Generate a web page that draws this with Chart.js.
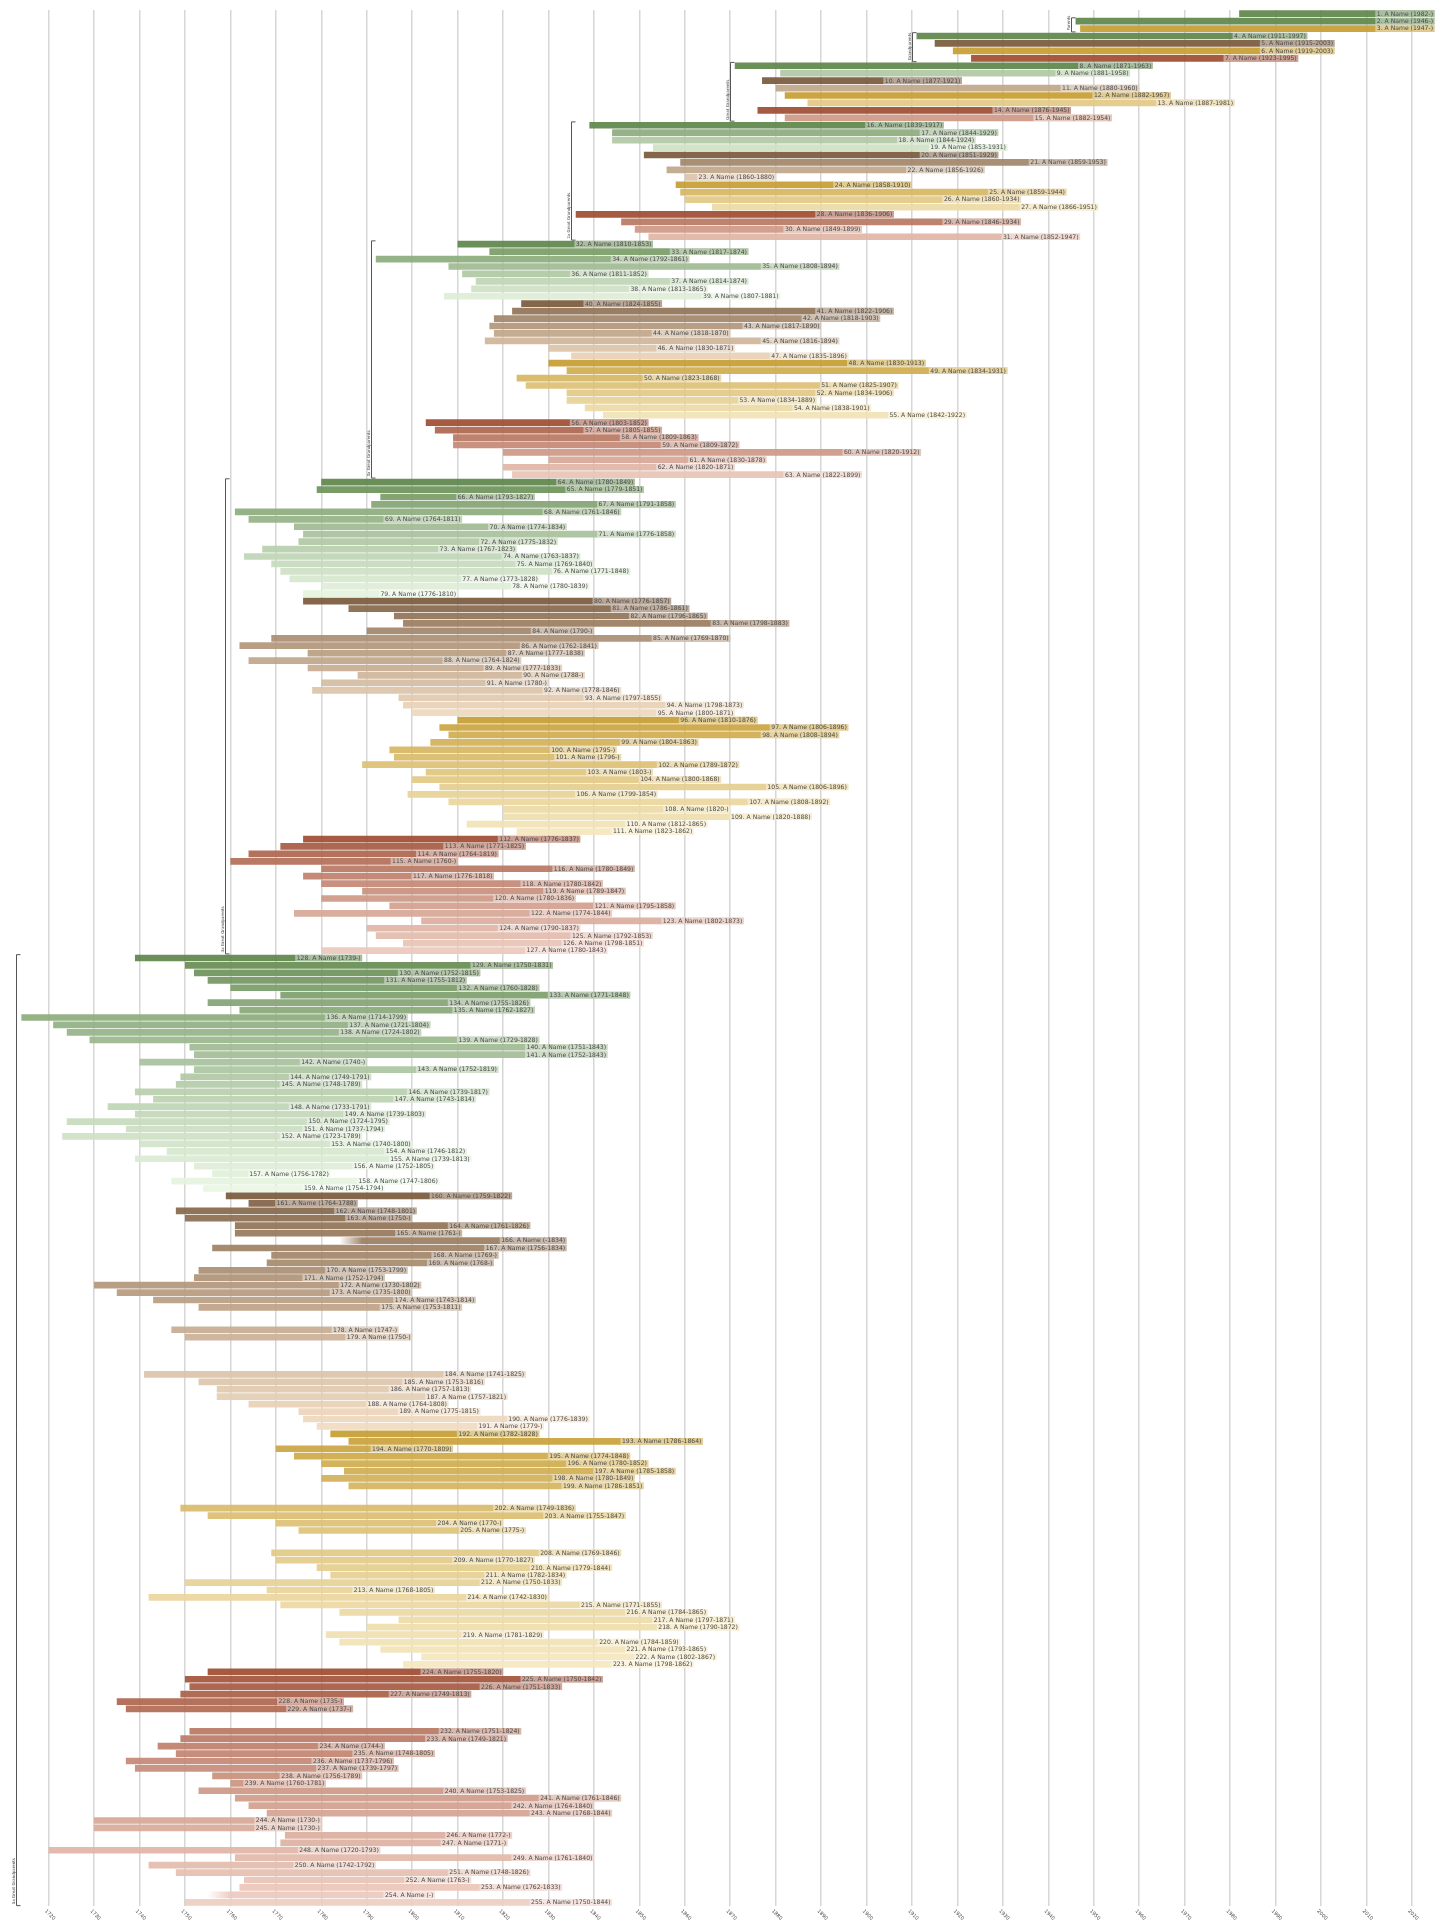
<!DOCTYPE html>
<html><head><meta charset="utf-8">
<script src="https://cdn.jsdelivr.net/npm/chart.js@4/dist/chart.umd.min.js"></script>
<style>html,body{margin:0;padding:0;background:#fff}#wrap{width:1445px;height:1927px;position:relative}</style>
</head><body><div id="wrap"><canvas id="c" width="1445" height="1927"></canvas></div>
<script>
// ---- data (row n = index n-1); null = unknown ----
const born = [
1982,1946,1947,1911,1915,1919,1923,1871,1881,1877,1880,1882,1887,1876,1882,
1839,1844,1844,1853,1851,1859,1856,1860,1858,1859,1860,1866,1836,1846,1849,1852,
1810,1817,1792,1808,1811,1814,1813,1807,1824,1822,1818,1817,1818,1816,1830,1835,
1830,1834,1823,1825,1834,1834,1838,1842,1803,1805,1809,1809,1820,1830,1820,1822,
1780,1779,1793,1791,1761,1764,1774,1776,1775,1767,1763,1769,1771,1773,1780,1776,
1776,1786,1796,1798,1790,1769,1762,1777,1764,1777,1788,1780,1778,1797,1798,1800,
1810,1806,1808,1804,1795,1796,1789,1803,1800,1806,1799,1808,1820,1820,1812,1823,
1776,1771,1764,1760,1780,1776,1780,1789,1780,1795,1774,1802,1790,1792,1798,1780,
1739,1750,1752,1755,1760,1771,1755,1762,1714,1721,1724,1729,1751,1752,1740,1752,
1749,1748,1739,1743,1733,1739,1724,1737,1723,1740,1746,1739,1752,1756,1747,1754,
1759,1764,1748,1750,1761,1761,null,1756,1769,1768,1753,1752,1730,1735,1743,1753,
null,null,1747,1750,null,null,null,null,1741,1753,1757,1757,1764,1775,1776,1779,
1782,1786,1770,1774,1780,1785,1780,1786,null,null,1749,1755,1770,1775,null,null,
1769,1770,1779,1782,1750,1768,1742,1771,1784,1797,1790,1781,1784,1793,1802,1798,
1755,1750,1751,1749,1735,1737,null,null,1751,1749,1744,1748,1737,1739,1756,1760,
1753,1761,1764,1768,1730,1730,1772,1771,1720,1761,1742,1748,1763,1762,null,1750];
const died = [
null,null,null,1997,2003,2003,1995,1963,1958,1921,1960,1967,1981,1945,1954,
1917,1929,1924,1931,1929,1953,1926,1880,1910,1944,1934,1951,1906,1934,1899,1947,
1853,1874,1861,1894,1852,1874,1865,1881,1855,1906,1903,1890,1870,1894,1871,1896,
1913,1931,1868,1907,1906,1889,1901,1922,1852,1855,1863,1872,1912,1878,1871,1899,
1849,1851,1827,1858,1846,1811,1834,1858,1832,1823,1837,1840,1848,1828,1839,1810,
1857,1861,1865,1883,null,1870,1841,1838,1824,1833,null,null,1846,1855,1873,1871,
1876,1896,1894,1863,null,null,1872,null,1868,1896,1854,1892,null,1888,1865,1862,
1837,1825,1819,null,1849,1818,1842,1847,1836,1858,1844,1873,1837,1853,1851,1843,
null,1831,1815,1812,1828,1848,1826,1827,1799,1804,1802,1828,1843,1843,null,1819,
1791,1789,1817,1814,1791,1803,1795,1794,1789,1800,1812,1813,1805,1782,1806,1794,
1822,1788,1801,null,1826,null,1834,1834,null,null,1799,1794,1802,1800,1814,1811,
null,null,null,null,null,null,null,null,1825,1816,1813,1821,1808,1815,1839,null,
1828,1864,1809,1848,1852,1858,1849,1851,null,null,1836,1847,null,null,null,null,
1846,1827,1844,1834,1833,1805,1830,1855,1865,1871,1872,1829,1859,1865,1867,1862,
1820,1842,1833,1813,null,null,null,null,1824,1821,null,1805,1796,1797,1789,1781,
1825,1846,1840,1844,null,null,null,null,1793,1840,1792,1826,null,1833,null,1844];
// rows with nobody drawn
const emptyRows = [176,177,180,181,182,183,200,201,206,207,230,231];
// where bars with an unknown end stop on the picture (row -> year)
const openEnd = {1:2025,2:2025,3:2025,84:1840,90:1838,91:1830,100:1845,101:1846,103:1853,
  108:1870,115:1810,128:1789,142:1790,163:1800,165:1811,168:1819,169:1818,178:1797,179:1800,
  191:1829,204:1820,205:1825,228:1785,229:1787,234:1794,244:1780,245:1780,246:1822,247:1821,
  252:1813,254:1805};
// where bars with an unknown start begin (they fade in)
const openStart = {166:1784, 254:1755};
const tickYears = [1720,1730,1740,1750,1760,1770,1780,1790,1800,1810,1820,1830,1840,1850,1860,
  1870,1880,1890,1900,1910,1920,1930,1940,1950,1960,1970,1980,1990,2000,2010,2020];
const groupNames = ['Parents','Grandparents','Great Grandparents','2x Great Grandparents',
  '3x Great Grandparents','4x Great Grandparents','5x Great Grandparents'];
const groupFirst = [2,4,8,16,32,64,128];
const groupLast  = [3,7,15,31,63,127,255];

// ---- build ----
const N = born.length;
const rowLabels = [], spans = [], labelText = [];
for (let i = 0; i < N; i++) {
  const n = i + 1;
  const empty = emptyRows.includes(n);
  const s = born[i] != null ? born[i] : openStart[n];
  const e = died[i] != null ? died[i] : openEnd[n];
  spans.push(empty ? null : [s, e]);
  const txt = empty ? '' : `${n}. A Name (${born[i] != null ? born[i] : ''}-${died[i] != null ? died[i] : ''})`;
  labelText.push(txt);
  rowLabels.push(String(n));
}
const fam = {
  green: {d:[94,134,74], l:[236,249,230]},
  brown: {d:[122,90,60], l:[244,222,196]},
  gold:  {d:[198,157,50], l:[246,234,196]},
  rust:  {d:[158,76,50], l:[240,208,196]}
};
const famOrder = ['green','brown','gold','rust'];
function rowColor(n, alpha) {
  const g = Math.floor(Math.log2(n));
  let f = 'green', t = 0;
  if (g === 1) { f = n === 2 ? 'green' : 'gold'; }
  else if (g >= 2) {
    const k = Math.pow(2, g) / 4, pos = n - Math.pow(2, g);
    f = famOrder[Math.floor(pos / k)];
    t = Math.pow((pos % k) / k, 0.8);
  }
  const c = fam[f].d.map((v, j) => Math.round(v + (fam[f].l[j] - v) * t));
  return `rgba(${c[0]},${c[1]},${c[2]},${alpha})`;
}

const overlay = {
  id: 'overlay',
  afterDraw(chart) {
    const ctx = chart.ctx, xs = chart.scales.x, ys = chart.scales.y, ca = chart.chartArea;
    const rowH = ys.getPixelForValue(1) - ys.getPixelForValue(0);
    const barH = rowH * 0.9;
    ctx.save();
    // name labels
    ctx.font = '6.1px "DejaVu Sans"';
    ctx.textBaseline = 'middle';
    ctx.textAlign = 'right';
    for (let i = 0; i < N; i++) {
      if (!spans[i]) continue;
      const xe = xs.getPixelForValue(spans[i][1]);
      const y = ys.getPixelForValue(i);
      const w = ctx.measureText(labelText[i]).width;
      ctx.fillStyle = 'rgba(255,255,255,0.42)';
      ctx.fillRect(xe - w - 3, y - barH / 2, w + 3, barH);
      ctx.fillStyle = '#4a4a4a';
      ctx.fillText(labelText[i], xe - 1.5, y + 0.3);
    }
    // generation brackets
    ctx.strokeStyle = '#555';
    ctx.lineWidth = 1;
    ctx.fillStyle = '#444';
    ctx.font = '4px "DejaVu Sans"';
    for (let g = 0; g < groupNames.length; g++) {
      let minS = Infinity;
      for (let n = groupFirst[g]; n <= groupLast[g]; n++) {
        if (spans[n - 1]) minS = Math.min(minS, spans[n - 1][0]);
      }
      const x0 = Math.round(xs.getPixelForValue(minS) - 5) + 0.5;
      const yt = ys.getPixelForValue(groupFirst[g] - 1) - rowH * 0.45;
      const yb = ys.getPixelForValue(groupLast[g] - 1) + rowH * 0.45;
      ctx.beginPath();
      ctx.moveTo(x0 + 4, yt); ctx.lineTo(x0, yt); ctx.lineTo(x0, yb); ctx.lineTo(x0 + 4, yb);
      ctx.stroke();
      ctx.save();
      ctx.translate(x0 - 1, yb - 1.5);
      ctx.rotate(-Math.PI / 2);
      ctx.textAlign = 'left';
      ctx.textBaseline = 'bottom';
      ctx.fillText(groupNames[g], 0, 0);
      ctx.restore();
    }
    // year labels along the bottom axis
    ctx.fillStyle = '#444';
    ctx.font = '5px "DejaVu Sans"';
    ctx.textAlign = 'left';
    ctx.textBaseline = 'top';
    for (const v of tickYears) {
      const x = xs.getPixelForValue(v);
      ctx.save();
      ctx.translate(x - 1.5, ca.bottom + 2.5);
      ctx.rotate(Math.PI / 4);
      ctx.fillText(String(v), 0, 0);
      ctx.restore();
    }
    ctx.restore();
  }
};

new Chart(document.getElementById('c'), {
  type: 'bar',
  data: {
    labels: rowLabels,
    datasets: [{
      data: spans,
      backgroundColor: (c) => {
        const n = c.dataIndex + 1;
        const col = rowColor(n, 0.92);
        if (openStart[n] != null && c.chart.scales && c.chart.scales.x) {
          const xs = c.chart.scales.x;
          const a = xs.getPixelForValue(openStart[n]);
          const b = xs.getPixelForValue(openStart[n] + 5);
          const gr = c.chart.ctx.createLinearGradient(a, 0, b, 0);
          gr.addColorStop(0, rowColor(n, 0));
          gr.addColorStop(1, col);
          return gr;
        }
        return col;
      },
      borderWidth: 0,
      borderSkipped: false,
      barPercentage: 0.9,
      categoryPercentage: 1.0
    }]
  },
  options: {
    indexAxis: 'y',
    responsive: false,
    animation: false,
    events: [],
    layout: { padding: { top: 10, bottom: 21, left: 0, right: 0 } },
    plugins: { legend: { display: false }, tooltip: { enabled: false } },
    scales: {
      x: {
        type: 'linear', min: 1709.3, max: 2027.3,
        afterBuildTicks: (s) => { s.ticks = tickYears.map(v => ({ value: v })); },
        ticks: { display: false },
        grid: { color: '#d6d6d6', lineWidth: 1.5, drawTicks: false },
        border: { display: false }
      },
      y: { type: 'category', display: false, offset: true, grid: { display: false } }
    }
  },
  plugins: [overlay]
});
</script>
</body></html>
